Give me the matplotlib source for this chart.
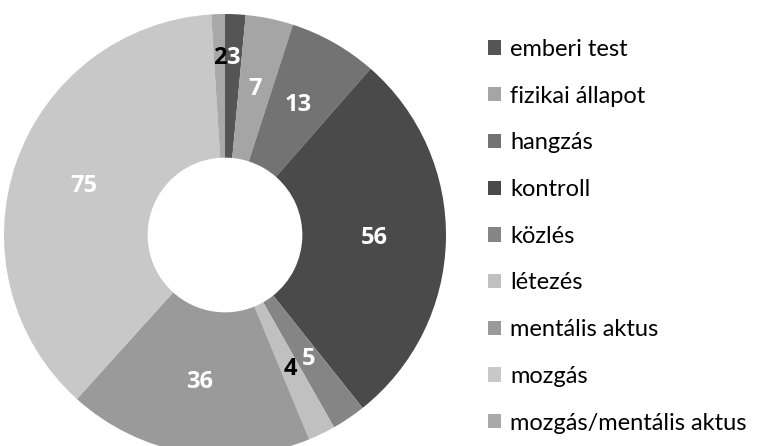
import numpy as np
import matplotlib.pyplot as plt

# adatok
kategoriak = ["emberi test", "fizikai állapot", "hangzás", "kontroll", "közlés",
              "létezés", "mentális aktus", "mozgás", "mozgás/mentális aktus"]
ertekek = [3, 7, 13, 56, 5, 4, 36, 75, 2]
szinek = ["#555555", "#a5a5a5", "#737373", "#4a4a4a", "#858585",
          "#c0c0c0", "#9a9a9a", "#c8c8c8", "#a9a9a9"]
cimke_szin = ["white", "white", "white", "white", "white",
              "black", "white", "white", "black"]

plt.rcParams["font.family"] = ["Lato", "DejaVu Sans"]

fig = plt.figure(figsize=(7.58, 4.46), dpi=100)
ax = fig.add_axes([4 / 758, (446 - 456) / 446, 442 / 758, 442 / 446])

wedges, _ = ax.pie(ertekek, colors=szinek, startangle=90, counterclock=False,
                   radius=1, wedgeprops=dict(width=0.65, linewidth=0))
ax.set_xlim(-1, 1)
ax.set_ylim(-1, 1)
ax.axis("off")

# ertekcimkek a gyuru kozepen
ossz = sum(ertekek)
kum = np.cumsum([0] + ertekek)
for i, v in enumerate(ertekek):
    kozep = (kum[i] + v / 2) / ossz
    szog = np.deg2rad(90 - 360 * kozep)
    r = 0.675
    if v <= 3:
        r = 0.80
    ax.text(r * np.cos(szog), r * np.sin(szog), str(v), ha="center", va="center",
            fontsize=17, fontweight="bold", color=cimke_szin[i],
            family=["Open Sans", "DejaVu Sans"])

fig.legend(wedges, kategoriak, loc="upper left", bbox_to_anchor=(476 / 758, 1 - 27 / 446),
           frameon=False, fontsize=17, handlelength=0.55, handleheight=0.55,
           handletextpad=0.4, labelspacing=1.09, borderpad=0)

fig.savefig("out.png", dpi=100)
